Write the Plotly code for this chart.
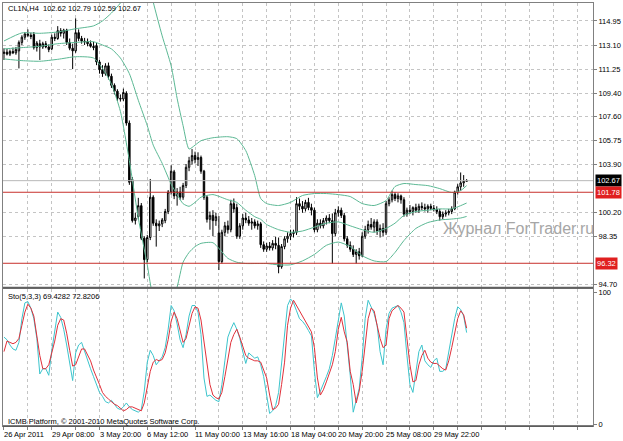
import plotly.graph_objects as go

# ---------------- data ----------------
bars = list(range(156))

open_ = [112.45, 112.55, 112.40, 112.60, 112.50, 112.65, 113.30, 113.70, 113.95, 113.85,
         113.90, 112.90, 113.20, 112.95, 113.20, 112.95, 112.80, 113.70, 113.60, 114.20,
         114.00, 114.25, 113.30, 112.85, 112.65, 114.05, 113.60, 113.40, 113.35, 113.20,
         113.00, 113.05, 111.80, 111.20, 110.90, 111.50, 110.70, 110.00, 109.55, 109.00,
         108.95, 109.40, 107.10, 102.75, 99.60, 99.90, 100.75, 98.25, 96.60, 98.30,
         101.40, 99.40, 99.20, 99.35, 99.60, 100.30, 101.80, 103.35, 101.50, 101.80,
         101.40, 102.30, 103.70, 104.20, 104.60, 104.30, 104.45, 103.40, 101.40, 99.70,
         100.00, 99.60, 98.65, 96.45, 98.70, 99.20, 98.90, 100.90, 100.60, 98.40,
         99.20, 99.80, 99.65, 99.40, 99.50, 99.20, 99.35, 97.75, 97.40, 97.65,
         97.50, 97.85, 97.70, 96.05, 97.60, 98.20, 98.40, 98.60, 98.70, 100.90,
         100.70, 100.50, 101.00, 100.60, 100.40, 98.90, 99.40, 99.20, 99.60, 99.80,
         99.60, 98.60, 100.20, 100.40, 100.00, 98.20, 97.70, 97.40, 97.00, 97.20,
         96.90, 98.40, 98.90, 99.30, 99.10, 99.50, 98.80, 99.00, 98.70, 100.90,
         101.20, 101.60, 101.30, 101.50, 101.20, 100.10, 100.40, 100.30, 100.60, 100.40,
         100.70, 100.60, 100.50, 100.70, 100.55, 100.45, 100.30, 99.90, 100.10, 100.20,
         100.30, 100.50, 101.80, 102.20, 102.50, 102.62]

high = [112.85, 112.80, 112.75, 112.90, 112.95, 113.45, 113.85, 114.10, 114.30, 114.05,
        114.10, 113.40, 113.50, 113.35, 113.40, 113.15, 113.90, 114.00, 114.55, 114.40,
        114.35, 114.35, 113.60, 113.20, 115.15, 114.30, 113.80, 113.65, 113.60, 113.45,
        113.35, 113.25, 111.95, 111.55, 111.70, 111.75, 110.90, 110.15, 109.70, 109.30,
        109.75, 109.55, 107.30, 102.95, 100.20, 101.35, 100.95, 98.40, 98.50, 102.80,
        101.55, 99.70, 99.60, 99.80, 100.50, 101.95, 103.85, 103.50, 102.10, 102.20,
        102.50, 103.95, 104.50, 105.10, 104.90, 104.85, 104.60, 103.50, 101.55, 100.30,
        100.40, 100.20, 99.95, 98.90, 99.50, 99.60, 101.20, 101.30, 100.90, 99.40,
        100.10, 100.20, 99.95, 99.80, 99.70, 99.60, 99.50, 98.00, 97.90, 97.95,
        98.10, 98.35, 98.30, 97.80, 98.40, 98.70, 98.90, 98.90, 101.40, 101.30,
        101.10, 101.20, 101.35, 100.90, 100.60, 99.70, 99.70, 99.80, 100.00, 100.10,
        100.15, 100.50, 100.70, 100.60, 100.20, 98.40, 98.00, 97.70, 97.40, 97.50,
        98.70, 99.20, 99.60, 99.80, 99.70, 99.70, 99.30, 99.40, 101.10, 101.40,
        101.90, 101.80, 101.70, 101.60, 101.40, 100.60, 100.80, 100.70, 100.90, 100.90,
        101.00, 100.90, 100.85, 100.90, 100.80, 100.70, 100.50, 100.30, 100.40, 100.50,
        100.70, 101.90, 102.40, 103.30, 103.10, 102.79]

low = [111.95, 112.30, 112.25, 112.40, 112.35, 111.30, 113.10, 113.50, 113.70, 113.55,
       112.75, 112.60, 111.95, 112.80, 112.85, 112.55, 112.70, 113.40, 113.50, 113.75,
       113.60, 113.10, 112.70, 111.25, 112.50, 113.40, 113.20, 113.10, 113.00, 112.90,
       112.70, 111.55, 110.90, 110.65, 110.75, 110.45, 109.80, 109.30, 108.80, 108.75,
       108.80, 106.90, 102.35, 99.45, 99.30, 99.70, 98.10, 95.15, 96.40, 98.10,
       99.20, 97.60, 98.80, 99.10, 99.40, 100.10, 101.60, 101.25, 100.75, 101.20,
       101.20, 102.10, 103.40, 103.90, 104.00, 103.80, 103.20, 101.20, 99.45, 98.90,
       98.40, 99.20, 95.80, 96.30, 98.40, 98.60, 98.70, 100.20, 98.20, 98.20,
       98.90, 99.40, 99.20, 98.90, 99.00, 98.90, 97.50, 97.20, 97.20, 97.30,
       97.30, 97.40, 95.55, 95.90, 97.40, 97.90, 98.10, 98.30, 98.50, 100.40,
       100.20, 100.30, 100.40, 100.00, 98.70, 98.70, 99.00, 99.00, 99.30, 99.40,
       96.30, 98.40, 99.90, 99.80, 98.00, 97.50, 97.20, 96.80, 96.30, 96.60,
       96.80, 98.20, 98.60, 98.90, 98.70, 98.50, 98.30, 98.40, 98.50, 100.70,
       101.00, 101.10, 101.00, 100.90, 99.90, 99.90, 100.10, 100.00, 100.20, 100.20,
       100.40, 100.30, 100.20, 100.40, 100.30, 100.10, 99.60, 99.70, 99.90, 100.00,
       100.10, 100.40, 101.60, 101.90, 102.20, 102.59]

close = [112.55, 112.40, 112.60, 112.50, 112.75, 113.30, 113.70, 113.95, 113.85, 113.75,
         112.90, 113.25, 112.95, 113.20, 112.95, 112.75, 113.70, 113.60, 114.20, 114.00,
         114.25, 113.30, 112.85, 112.65, 114.05, 113.60, 113.40, 113.35, 113.20, 113.00,
         112.90, 111.80, 111.20, 110.90, 111.50, 110.70, 110.00, 109.55, 109.00, 108.95,
         109.45, 107.10, 102.55, 99.60, 99.80, 100.75, 98.25, 96.60, 98.30, 101.40,
         99.40, 99.20, 99.35, 99.65, 100.30, 101.80, 103.40, 101.50, 101.80, 101.40,
         102.30, 103.70, 104.20, 104.60, 104.30, 104.45, 103.40, 101.40, 99.70, 100.00,
         99.60, 99.90, 96.45, 98.70, 99.20, 98.90, 100.90, 100.50, 98.40, 99.20,
         99.80, 99.65, 99.40, 99.50, 99.20, 99.35, 97.75, 97.40, 97.65, 97.50,
         97.85, 97.70, 96.05, 97.60, 98.20, 98.40, 98.60, 98.70, 100.90, 100.70,
         100.50, 101.00, 100.60, 100.40, 98.90, 99.40, 99.20, 99.60, 99.80, 99.60,
         98.60, 100.20, 100.40, 100.00, 98.20, 97.70, 97.40, 97.00, 97.20, 96.90,
         98.40, 98.90, 99.30, 99.10, 99.50, 98.80, 99.00, 98.70, 100.90, 101.20,
         101.60, 101.30, 101.50, 101.20, 100.10, 100.40, 100.30, 100.60, 100.40, 100.70,
         100.60, 100.50, 100.70, 100.55, 100.45, 100.30, 99.90, 100.10, 100.20, 100.30,
         100.50, 101.80, 102.20, 102.50, 102.62, 102.67]

# Bollinger bands, read at sample bars
bb_bars = [0, 6, 12, 18, 24, 30, 33, 36, 39, 42, 45, 48, 50, 53, 56, 58, 60, 62, 64, 66,
           70, 75, 78, 81, 84, 86, 88, 92, 96, 100, 104, 108, 112, 116, 120, 124, 128, 131,
           134, 138, 142, 146, 150, 153, 155]
bb_upper = [113.41, 114.03, 114.00, 114.10, 114.35, 114.57, 114.95, 115.56, 116.33, 117.5,
            119.0, 118.5, 116.4, 113.8, 111.5, 109.0, 106.9, 105.1, 105.4, 105.74,
            105.97, 106.05, 105.9, 104.98, 103.06, 101.30, 100.91, 100.76, 101.0, 101.53,
            101.68, 101.68, 101.6, 101.45, 100.91, 100.76, 101.14, 102.22, 102.45, 102.37,
            102.29, 102.06, 101.76, 101.91, 102.29]
bb_middle = [112.8, 112.9, 113.0, 113.2, 113.3, 113.35, 113.1, 112.8, 112.1, 110.9,
             108.85, 106.9, 105.4, 104.0, 102.4, 101.6, 100.9, 100.7, 101.0, 101.4,
             101.6, 101.2, 101.0, 100.4, 99.9, 99.7, 99.3, 98.9, 98.7, 98.8,
             99.1, 99.4, 99.5, 99.2, 98.9, 98.7, 99.0, 99.4, 100.0, 100.3,
             100.4, 100.5, 100.5, 100.75, 100.95]
bb_lower = [112.03, 111.9, 111.85, 112.0, 112.2, 112.1, 111.3, 110.1, 108.0, 104.2,
            99.8, 96.2, 93.8, 93.0, 93.4, 94.5, 96.4, 97.15, 97.6, 97.85,
            97.9, 96.7, 96.4, 96.3, 96.3, 96.3, 96.3, 96.2, 96.2, 96.5,
            97.0, 97.7, 97.95, 97.6, 96.9, 96.5, 96.45, 97.15, 98.07, 99.0,
            99.45, 99.65, 99.72, 99.8, 99.92]

# Stochastic (5,3,3)
stoch_main = [66, 64, 60, 57, 56, 62, 80, 92, 93, 88,
              80, 65, 38, 42, 42, 37, 56, 72, 85, 81,
              72, 60, 48, 33, 54, 60, 62, 55, 48, 42,
              36, 30, 24, 21, 17, 16, 18, 15, 12, 11,
              13, 16, 13, 11, 10, 9, 11, 25, 47, 56,
              52, 45, 48, 51, 58, 72, 90, 86, 76, 64,
              58, 68, 82, 90, 90, 85, 68, 35, 21, 22,
              20, 18, 17, 30, 48, 66, 72, 77, 72, 65,
              55, 46, 54, 52, 50, 51, 45, 36, 20, 8,
              10, 14, 24, 45, 67, 90, 95, 92, 86, 80,
              78, 75, 71, 67, 40, 20, 25, 30, 36, 42,
              52, 65, 80, 92, 82, 60, 37, 9, 18, 27,
              50, 80, 94, 89, 84, 75, 55, 45, 72, 84,
              88, 89, 90, 85, 77, 52, 30, 24, 40, 55,
              60, 48, 45, 43, 48, 50, 40, 40, 42, 55,
              67, 80, 89, 87, 82, 69.4282]
stoch_signal = [55, 63, 62, 61, 62, 65, 75, 85, 91, 88,
                82, 68, 52, 42, 42, 45, 53, 63, 75, 80,
                79, 69, 56, 44, 45, 51, 57, 57, 53, 48,
                41, 36, 30, 24, 21, 19, 17, 15, 14, 12,
                10, 11, 13, 13, 12, 11, 10, 16, 28, 40,
                47, 49, 48, 49, 54, 64, 78, 85, 80, 71,
                62, 65, 74, 84, 89, 88, 79, 63, 44, 30,
                22, 20, 19, 24, 36, 50, 62, 68, 72, 66,
                58, 52, 50, 49, 48, 48, 47, 41, 35, 22,
                11, 12, 15, 30, 47, 75, 88, 94, 90, 86,
                82, 77, 74, 70, 58, 35, 22, 26, 32, 38,
                45, 55, 72, 81, 70, 62, 40, 30, 16, 25,
                40, 60, 80, 88, 86, 75, 65, 58, 60, 80,
                86, 88, 90, 88, 85, 65, 45, 32, 33, 45,
                52, 56, 50, 47, 46, 46, 44, 42, 41, 48,
                58, 70, 80, 86, 83, 72.8206]

price_ticks = [114.95, 113.10, 111.25, 109.40, 107.60, 105.75, 103.90, 100.20, 98.35, 94.70]
stoch_ticks = [0, 100]
time_tick_bars = [0, 16, 32, 48, 64, 80, 96, 112, 128, 144]
time_tick_labels = ["26 Apr 2011", "29 Apr 08:00", "3 May 20:00", "6 May 12:00", "11 May 00:00",
                    "13 May 16:00", "18 May 04:00", "20 May 20:00", "25 May 08:00", "29 May 22:00"]
level_high = 101.78
level_low = 96.32
last_price = 102.67
symbol_text = "CL1N,H4  102.62 102.79 102.59 102.67"
stoch_text = "Sto(5,3,3) 69.4282 72.8206"
copyright_text = "ICMB Platform, \u00a9 2001-2010 MetaQuotes Software Corp."
watermark_text = "Журнал ForTrader.ru"

# ---------------- layout helpers ----------------
W, H = 623, 441
PL, PR, PT, PB = 2, 595, 2, 426


def fx(px):
    return (px - PL) / (PR - PL)


def fy(py):
    return (PB - py) / (PB - PT)


FONT = "Liberation Sans, Arial, sans-serif"
FS = 7.5
GRID = "#c4c4c4"
FRAME = "#808080"
BB_COLOR = "#5cb894"
K_COLOR = "#3cc4cc"
D_COLOR = "#e0303a"
LEVEL_COLOR = "#c8302c"

xr = [-1 / 3, 197 + 1 / 3]

fig = go.Figure()

for band in (bb_upper, bb_middle, bb_lower):
    fig.add_trace(go.Scatter(x=bb_bars, y=band, mode="lines",
                             line=dict(color=BB_COLOR, width=1, shape="spline", smoothing=0.6),
                             hoverinfo="skip", xaxis="x", yaxis="y"))

fig.add_trace(go.Candlestick(
    x=bars, open=open_, high=high, low=low, close=close,
    increasing=dict(line=dict(color="black", width=1), fillcolor="white"),
    decreasing=dict(line=dict(color="black", width=1), fillcolor="black"),
    whiskerwidth=0, xaxis="x", yaxis="y", hoverinfo="skip"))

fig.add_trace(go.Scatter(x=bars, y=stoch_main, mode="lines",
                         line=dict(color=K_COLOR, width=1), hoverinfo="skip",
                         xaxis="x2", yaxis="y2"))
fig.add_trace(go.Scatter(x=bars, y=stoch_signal, mode="lines",
                         line=dict(color=D_COLOR, width=1), hoverinfo="skip",
                         xaxis="x2", yaxis="y2"))

common_x = dict(range=xr, tickmode="linear", tick0=0, dtick=8, showgrid=True,
                gridcolor=GRID, griddash="3px,3px", gridwidth=1, zeroline=False,
                showline=True, mirror=True, linecolor=FRAME, linewidth=1,
                showticklabels=False)

fig.update_layout(
    width=W, height=H,
    margin=dict(l=PL, r=W - PR, t=PT, b=H - PB),
    paper_bgcolor="white", plot_bgcolor="white",
    showlegend=False, hovermode=False,
    font=dict(family=FONT, size=FS, color="black"),
    xaxis=dict(domain=[0, 1], anchor="y", ticks="", rangeslider=dict(visible=False), **common_x),
    xaxis2=dict(domain=[0, 1], anchor="y2", ticks="outside", ticklen=3, tickcolor=FRAME, **common_x),
    yaxis=dict(domain=[fy(287), 1], range=[94.47, 116.33], side="right",
               tickvals=price_ticks, ticktext=[f"{v:.2f}" for v in price_ticks],
               ticks="outside", ticklen=3, tickcolor=FRAME,
               tickfont=dict(family=FONT, size=FS, color="black"),
               showgrid=True, gridcolor=GRID, griddash="3px,3px", zeroline=False,
               showline=True, mirror=True, linecolor=FRAME, linewidth=1),
    yaxis2=dict(domain=[0, fy(289)], range=[-1.5, 102.3], side="right",
                tickvals=stoch_ticks, ticktext=[str(v) for v in stoch_ticks],
                ticks="outside", ticklen=3, tickcolor=FRAME,
                tickfont=dict(family=FONT, size=FS, color="black"),
                showgrid=False, zeroline=False,
                showline=True, mirror=True, linecolor=FRAME, linewidth=1),
)

# separator / panel borders (thicker line between panels)
fig.add_shape(type="line", xref="paper", yref="paper", x0=0, x1=1, y0=fy(287.5), y1=fy(287.5),
              line=dict(color="#606060", width=2))
fig.add_shape(type="line", xref="paper", yref="paper", x0=0, x1=1, y0=fy(426), y1=fy(426),
              line=dict(color="#505050", width=1.5))

# horizontal levels
fig.add_shape(type="line", xref="x domain", yref="y", x0=0, x1=1, y0=last_price, y1=last_price,
              line=dict(color="#b8b8b8", width=1))
for lv in (level_high, level_low):
    fig.add_shape(type="line", xref="x domain", yref="y", x0=0, x1=1, y0=lv, y1=lv,
                  line=dict(color=LEVEL_COLOR, width=1))

ann = []
# price boxes on the right axis
for val, bg in ((last_price, "black"), (level_high, "#e02020"), (level_low, "#e02020")):
    ann.append(dict(x=fx(597), xref="paper", y=val, yref="y", text=f"{val:.2f}",
                    xanchor="left", yanchor="middle", showarrow=False, bgcolor=bg,
                    borderpad=1, font=dict(family=FONT, size=FS, color="white")))
# time labels (left-aligned at their tick, as in the terminal)
for b, lab in zip(time_tick_bars, time_tick_labels):
    ann.append(dict(x=b, xref="x2", xshift=-2, y=fy(435), yref="paper", text=lab,
                    xanchor="left", yanchor="middle", showarrow=False,
                    font=dict(family=FONT, size=FS, color="black")))
# texts in panels
ann.append(dict(x=fx(5), xref="paper", y=fy(8), yref="paper", text=symbol_text,
                xanchor="left", yanchor="middle", showarrow=False,
                font=dict(family=FONT, size=FS, color="black")))
ann.append(dict(x=fx(5), xref="paper", y=fy(296), yref="paper", text=stoch_text,
                xanchor="left", yanchor="middle", showarrow=False,
                font=dict(family=FONT, size=FS, color="black")))
ann.append(dict(x=fx(5), xref="paper", y=fy(421), yref="paper", text=copyright_text,
                xanchor="left", yanchor="middle", showarrow=False,
                font=dict(family=FONT, size=FS, color="black")))
ann.append(dict(x=fx(442), xref="paper", y=fy(228), yref="paper", text=watermark_text,
                xanchor="left", yanchor="middle", showarrow=False,
                font=dict(family=FONT, size=16, color="#a6a6a6")))
fig.update_layout(annotations=ann)

fig.write_html("out.html", config={"displayModeBar": False},
               post_script="document.body.style.margin='0px';")
